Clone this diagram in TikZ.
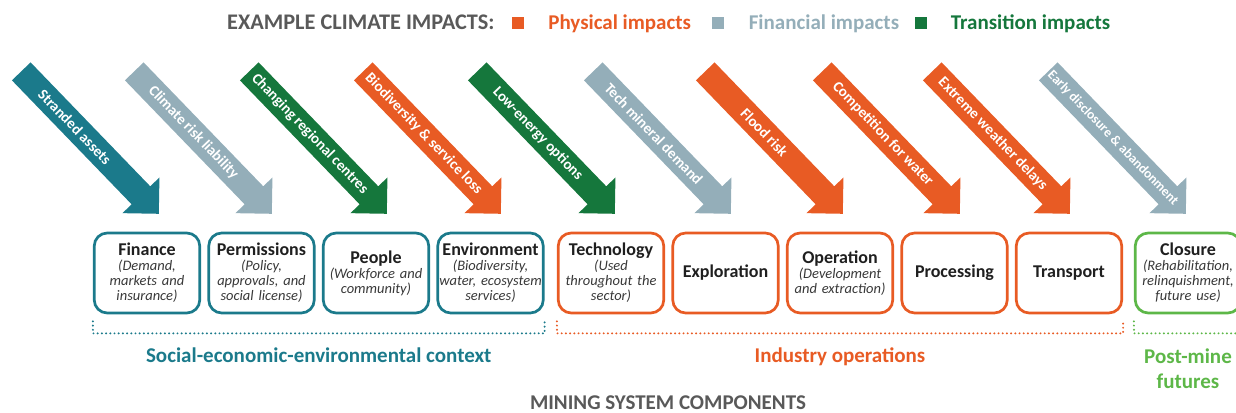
\documentclass[tikz,border=0pt]{standalone}
\usepackage{fontspec}
\setmainfont{Carlito}
\usetikzlibrary{shapes.arrows, positioning, calc}

\definecolor{ctxteal}{HTML}{1B7A8B}
\definecolor{finblue}{HTML}{94AEB9}
\definecolor{transgreen}{HTML}{15773C}
\definecolor{physorange}{HTML}{E85B24}
\definecolor{postgreen}{HTML}{5DB748}
\definecolor{headgrey}{HTML}{595959}

\tikzstyle{impact} = [single arrow, 
rotate=-46, 
anchor=tip, 
minimum height=198, 
text height=25.5, 
text depth=0, 
single arrow head extend=12.75, 
single arrow tip angle=90, 
inner sep=0]
\tikzstyle{implabel} = [rotate=-46, 
text=white, 
inner sep=0,
font=\fontsize{15}{18}\selectfont\bfseries]
\tikzstyle{compbox} = [rectangle, rounded corners=13, 
line width=2.7, 
minimum width=105.5, 
minimum height=80, 
text width=105, 
align=center, 
inner sep=0, 
text=black!78,
font=\fontsize{14.5}{15}\selectfont\itshape]
\tikzstyle{legtext} = [inner sep=0, text height=14, text depth=0, 
font=\fontsize{21}{25}\selectfont\bfseries]
\tikzstyle{legsq} = [rectangle, minimum size=12, inner sep=0]
\tikzstyle{grplabel} = [anchor=base, inner sep=0, align=center,
font=\fontsize{21}{25}\selectfont\bfseries]
\tikzstyle{bracket} = [line width=2.2, line cap=round, dash pattern=on 0pt off 4.2pt]

\newcommand{\ctitle}[1]{{\fontsize{18}{15}\selectfont\upshape\bfseries\color{black!88}#1}}

\begin{document}
\begin{tikzpicture}[x=1pt, y=1pt, node distance=114.5pt]
	\useasboundingbox (0,0) rectangle (1236,-412);
	\clip (0,0) rectangle (1236,-412);
	
	% legend
	\node (lgd) [legtext, anchor=west, text=headgrey, font=\fontsize{22.3}{25}\selectfont\bfseries] at (227,-23) {EXAMPLE CLIMATE IMPACTS:};
	\node (sqphys) [legsq, fill=physorange, right=17 of lgd] {};
	\node (txtphys) [legtext, text=physorange, right=24 of sqphys] {Physical impacts};
	\node (sqfin) [legsq, fill=finblue, right=21 of txtphys] {};
	\node (txtfin) [legtext, text=finblue, right=24 of sqfin] {Financial impacts};
	\node (sqtrans) [legsq, fill=transgreen, right=16 of txtfin] {};
	\node (txttrans) [legtext, text=transgreen, right=23 of sqtrans] {Transition impacts};
	
	% impact arrows
	\node (imp1) [impact, fill=ctxteal] at (159,-214) {};
	\node (imp2) [impact, fill=finblue] at (272,-214) {};
	\node (imp3) [impact, fill=transgreen] at (387,-214) {};
	\node (imp4) [impact, fill=physorange] at (501,-214) {};
	\node (imp5) [impact, fill=transgreen] at (615,-214) {};
	\node (imp6) [impact, fill=finblue] at (731,-214) {};
	\node (imp7) [impact, fill=physorange] at (843,-214) {};
	\node (imp8) [impact, fill=physorange] at (960,-214) {};
	\node (imp9) [impact, fill=physorange] at (1070,-214) {};
	\node (imp10) [impact, fill=finblue] at (1186,-214) {};
	
	\node (lbl1) [implabel] at ($(imp1.tail)!.39!(imp1.tip)$) {Stranded assets};
	\node (lbl2) [implabel] at ($(imp2.tail)!.43!(imp2.tip)$) {Climate risk liability};
	\node (lbl3) [implabel] at ($(imp3.tail)!.44!(imp3.tip)$) {Changing regional centres};
	\node (lbl4) [implabel] at ($(imp4.tail)!.44!(imp4.tip)$) {Biodiversity \& service loss};
	\node (lbl5) [implabel] at ($(imp5.tail)!.44!(imp5.tip)$) {Low-energy options};
	\node (lbl6) [implabel] at ($(imp6.tail)!.44!(imp6.tip)$) {Tech mineral demand};
	\node (lbl7) [implabel] at ($(imp7.tail)!.43!(imp7.tip)$) {Flood risk};
	\node (lbl8) [implabel] at ($(imp8.tail)!.44!(imp8.tip)$) {Competition for water};
	\node (lbl9) [implabel] at ($(imp9.tail)!.44!(imp9.tip)$) {Extreme weather delays};
	\node (lbl10) [implabel, font=\fontsize{13.5}{16}\selectfont\bfseries] at ($(imp10.tail)!.47!(imp10.tip)$) {Early disclosure \& abandonment};
	
	% mining system components
	\node (fin) [compbox, draw=ctxteal] at (147,-273) {\ctitle{Finance}\\(Demand,\\markets and\\insurance)};
	\node (perm) [compbox, draw=ctxteal, right of=fin] {\ctitle{Permissions}\\(Policy,\\approvals, and\\social license)};
	\node (ppl) [compbox, draw=ctxteal, right of=perm] {\ctitle{People}\\(Workforce and\\community)};
	\node (env) [compbox, draw=ctxteal, right of=ppl] {\ctitle{Environment}\\(Biodiversity,\\water, ecosystem\\services)};
	
	\node (tech) [compbox, draw=physorange, right of=env, xshift=6] {\ctitle{Technology}\\(Used\\throughout the\\sector)};
	\node (expl) [compbox, draw=physorange, right of=tech] {\ctitle{Exploration}};
	\node (oper) [compbox, draw=physorange, right of=expl] {\ctitle{Operation}\\(Development\\and extraction)};
	\node (proc) [compbox, draw=physorange, right of=oper] {\ctitle{Processing}};
	\node (trans) [compbox, draw=physorange, right of=proc] {\ctitle{Transport}};
	
	\node (clos) [compbox, draw=postgreen, right of=trans, xshift=4.5] {\ctitle{Closure}\\(Rehabilitation,\\relinquishment,\\future use)};
	
	% group brackets
	\draw [bracket, ctxteal] ([yshift=-7]fin.south west) -- ++(0,-12) -| ([yshift=-7]env.south east);
	\draw [bracket, physorange] ([yshift=-7]tech.south west) -- ++(0,-12) -| ([yshift=-7]trans.south east);
	\draw [bracket, postgreen] ([yshift=-7]clos.south west) -- ++(0,-12) -| ([yshift=-7]clos.south east);
	
	\node (ctx) [grplabel, text=ctxteal] at ($(fin.south)!.5!(env.south)+(0,-48)$) {Social-economic-environmental context};
	\node (ind) [grplabel, text=physorange] at ($(tech.south)!.5!(trans.south)+(0,-48)$) {Industry operations};
	\node (post) [grplabel, anchor=north, text=postgreen] at ($(clos.south)+(0,-34)$) {Post-mine\\futures};
	
	\node (msc) [legtext, anchor=base, text=headgrey] at (668,-409) {MINING SYSTEM COMPONENTS};
	
\end{tikzpicture}
\end{document}
